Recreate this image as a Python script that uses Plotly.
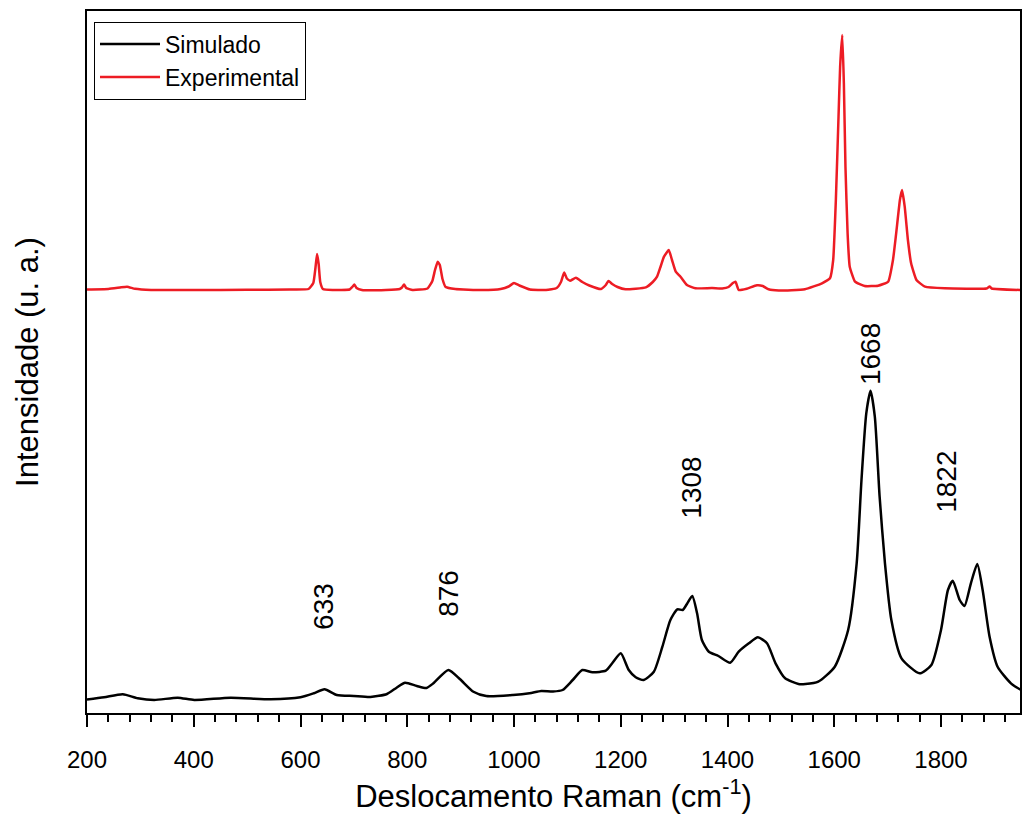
import plotly.graph_objects as go

# Simulated spectrum (black)
sim_x = [200, 232, 267, 295, 326, 370, 401, 469, 544, 600, 625, 645, 668, 700, 731, 762,
         780, 796, 818, 836, 849, 877, 899, 924, 948, 998, 1029, 1051, 1073, 1091, 1110,
         1128, 1147, 1172, 1184, 1200, 1215, 1228, 1243, 1262, 1278, 1293, 1306, 1316,
         1324, 1334, 1343, 1352, 1365, 1383, 1405, 1421, 1440, 1457, 1474, 1490, 1508,
         1533, 1546, 1570, 1601, 1626, 1642, 1651, 1660, 1668, 1676, 1685, 1695, 1707,
         1726, 1760, 1782, 1800, 1813, 1822, 1835, 1844, 1856, 1868, 1878, 1891, 1906,
         1931, 1950]
sim_y = [13.5, 15.7, 18.7, 14.7, 13, 15.3, 13, 15.3, 13.7, 15.7, 19.7, 23.7, 18, 17, 16, 19,
         25.3, 30.3, 27, 25, 29.7, 43, 33.7, 21.3, 17, 18, 19.7, 22, 21.5, 23, 33,
         43, 40.7, 42.3, 49.7, 59.7, 43, 35.7, 33, 41.3, 66.3, 93, 103.7, 103,
         109, 117, 99.7, 73, 61.3, 57, 50.3, 61.3, 69.7, 75.7, 69.7, 49.7, 34.7,
         29, 29, 31.3, 46.3, 83, 149.7, 233, 299.7, 322.3, 296.3, 216.3, 149.7, 93,
         54.7, 39.7, 48, 83, 123, 132.3, 113, 107, 129.7, 149, 123, 76.3, 46.3,
         29.7, 23]

# Experimental spectrum (red)
exp_x = [200, 240, 262, 275, 290, 320, 400, 500, 580, 615, 624, 628, 631, 634, 637, 642,
         660, 692, 697, 701, 705, 715, 760, 786, 790, 794, 798, 810, 838, 847, 852, 857,
         861, 866, 872, 890, 940, 975, 990, 1000, 1010, 1030, 1060, 1080, 1088, 1094,
         1099, 1105, 1116, 1128, 1141, 1163, 1172, 1177, 1184, 1194, 1209, 1247, 1260,
         1268, 1275, 1281, 1290, 1296, 1303, 1312, 1324, 1340, 1371, 1390, 1402, 1410,
         1415, 1421, 1436, 1455, 1466, 1477, 1496, 1545, 1577, 1592, 1598, 1603, 1608,
         1611, 1615, 1618, 1621, 1625, 1629, 1639, 1657, 1682, 1701, 1710, 1716, 1723,
         1727, 1732, 1738, 1744, 1754, 1770, 1807, 1885, 1891, 1895, 1950]
exp_y = [423.5, 424, 425.5, 426.3, 424.2, 423, 423, 423.2, 423.5, 424, 430, 445, 459, 449, 431, 424,
         423, 423.5, 426, 428.5, 425, 423, 423, 424, 425.5, 428.5, 425, 423, 424.5, 432, 443, 451.3,
         448, 434, 426, 424, 423, 424, 426.5, 430, 427.5, 423.5, 423, 425, 431, 440.5,
         434.5, 432.3, 435.3, 431, 427.5, 424, 428, 432, 429, 426, 423.7, 425.7, 431,
         436.3, 447, 456.3, 463, 453, 441.3, 436.3, 428, 424.7, 425, 424.5, 426, 430,
         431.3, 423, 424.3, 427.7, 427, 423.7, 422.5, 423.7, 429.7, 434.7, 453, 513, 596.3,
         646.3, 678, 630, 546.3, 479.7, 446.3, 431.3, 427, 427.3, 431.3, 453, 479.7, 513,
         523, 506.3, 473, 449.7, 433, 426.3, 424.7, 424.5, 426.5, 424.5, 423]

# Peak labels
label_text = ["633", "876", "1308", "1668", "1822"]
label_x = [642, 876, 1331, 1667, 1809]
label_y = [107, 120, 225, 359, 231]

FONT = "Liberation Sans, Arial, sans-serif"

fig = go.Figure()
fig.add_trace(go.Scatter(x=sim_x, y=sim_y, mode="lines", name="Simulado",
                         line=dict(color="black", width=2.5, shape="spline", smoothing=0.6)))
fig.add_trace(go.Scatter(x=exp_x, y=exp_y, mode="lines", name="Experimental",
                         line=dict(color="#ED1C24", width=2.5, shape="spline", smoothing=0.4)))

for t, x, y in zip(label_text, label_x, label_y):
    fig.add_annotation(x=x, y=y, text=t, showarrow=False, textangle=-90,
                       font=dict(family=FONT, size=28, color="black"))

fig.update_layout(
    width=1023, height=824,
    margin=dict(l=87, r=1, t=11, b=111),
    paper_bgcolor="white", plot_bgcolor="white",
    font=dict(family=FONT, color="black"),
    showlegend=True,
    legend=dict(x=0.0075, y=0.985, xanchor="left", yanchor="top",
                bordercolor="black", borderwidth=1, bgcolor="white",
                font=dict(family=FONT, size=23), tracegroupgap=0,
                itemwidth=60),
    xaxis=dict(range=[200, 1948], tickmode="linear", tick0=200, dtick=200,
               ticks="outside", ticklen=12, tickwidth=2, tickcolor="black",
               ticklabelstandoff=12,
               minor=dict(dtick=40, ticks="outside", ticklen=7, tickwidth=2, tickcolor="black"),
               showline=True, linewidth=2, linecolor="black", mirror=True,
               showgrid=False, zeroline=False,
               tickfont=dict(family=FONT, size=24),
               title=dict(text="Deslocamento Raman (cm<sup>-1</sup>)",
                          font=dict(family=FONT, size=31), standoff=14)),
    yaxis=dict(range=[0, 702], showticklabels=False, ticks="",
               showline=True, linewidth=2, linecolor="black", mirror=True,
               showgrid=False, zeroline=False,
               title=dict(text="Intensidade (u. a.)", font=dict(family=FONT, size=31),
                          standoff=37)),
)

fig.write_html("out.html")
